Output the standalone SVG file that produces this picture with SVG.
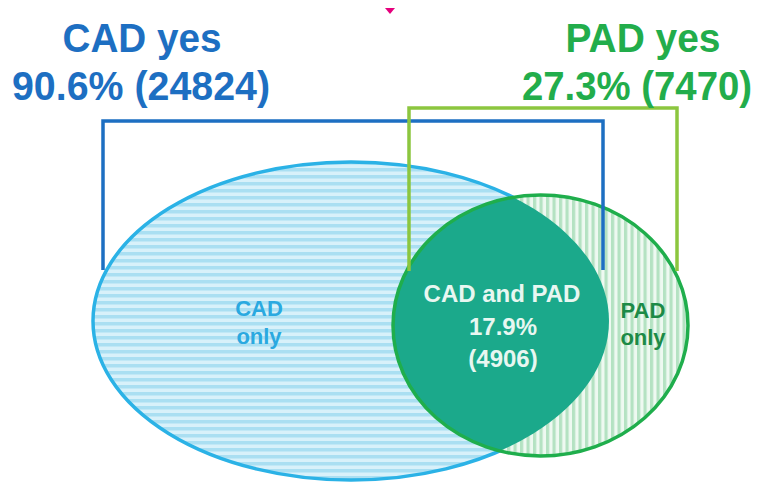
<svg xmlns="http://www.w3.org/2000/svg" width="764" height="482" viewBox="0 0 764 482">
  <style>
    .bold { font-family: "Liberation Sans", Arial, sans-serif; font-weight: bold; }
    .big { font-size: 40px; }
    .mid { font-size: 22px; }
    .cad-head { fill: #1d6fc2; }
    .pad-head { fill: #22ad4b; }
    .cad-only { fill: #2aa9e0; }
    .pad-only { fill: #1d8a47; }
    .both { fill: #e8f7f1; font-size: 24px; }
    .bracket { fill: none; stroke-width: 3.5; stroke-linejoin: miter; }
  </style>
  <defs>
    <!-- horizontal hatching for the CAD set -->
    <pattern id="hstripe" patternUnits="userSpaceOnUse" width="7" height="7">
      <rect width="7" height="7" fill="#d8f1fa"/>
      <rect y="0" width="7" height="3.5" fill="#aadff2"/>
    </pattern>
    <!-- vertical hatching for the PAD set -->
    <pattern id="vstripe" patternUnits="userSpaceOnUse" width="6.5" height="6.5">
      <rect width="6.5" height="6.5" fill="#eef9f1"/>
      <rect x="0" width="3.2" height="6.5" fill="#b4e2c2"/>
    </pattern>
    <clipPath id="cadClip">
      <ellipse cx="351" cy="321" rx="258" ry="159"/>
    </clipPath>
  </defs>

  <rect width="764" height="482" fill="#ffffff"/>

  <!-- small marker at the top -->
  <polygon points="385,8 395,8 390,14" fill="#e5007d"/>

  <g id="cad-set">
    <ellipse cx="351" cy="321" rx="258" ry="159" fill="url(#hstripe)" stroke="#2bb2e6" stroke-width="3.5"/>
  </g>

  <g id="pad-set">
    <ellipse cx="540.5" cy="325.5" rx="147.5" ry="130.5" fill="url(#vstripe)"/>
  </g>

  <g id="overlap">
    <ellipse cx="540.5" cy="325.5" rx="147.5" ry="130.5" fill="#1ba98b" clip-path="url(#cadClip)"/>
  </g>

  <g id="pad-outline">
    <ellipse cx="540.5" cy="325.5" rx="147.5" ry="130.5" fill="none" stroke="#1fae4c" stroke-width="3.5"/>
  </g>

  <g id="connectors">
    <polyline class="bracket" stroke="#1d6fc2" points="103,270 103,121 603,121 603,270"/>
    <polyline class="bracket" stroke="#8cc63f" points="409,271 409,108 677,108 677,271"/>
  </g>

  <g id="cad-label">
    <text class="bold big cad-head" x="142" y="52" text-anchor="middle" textLength="159" lengthAdjust="spacingAndGlyphs">CAD yes</text>
    <text class="bold big cad-head" x="141" y="100" text-anchor="middle" textLength="258" lengthAdjust="spacingAndGlyphs">90.6% (24824)</text>
  </g>

  <g id="pad-label">
    <text class="bold big pad-head" x="643" y="52" text-anchor="middle" textLength="155" lengthAdjust="spacingAndGlyphs">PAD yes</text>
    <text class="bold big pad-head" x="637" y="100" text-anchor="middle" textLength="230" lengthAdjust="spacingAndGlyphs">27.3% (7470)</text>
  </g>

  <g id="cad-only-label">
    <text class="bold mid cad-only" x="259" y="316" text-anchor="middle">CAD</text>
    <text class="bold mid cad-only" x="259" y="344" text-anchor="middle">only</text>
  </g>

  <g id="both-label">
    <text class="bold both" x="502" y="302" text-anchor="middle">CAD and PAD</text>
    <text class="bold both" x="503" y="335" text-anchor="middle">17.9%</text>
    <text class="bold both" x="503" y="367" text-anchor="middle">(4906)</text>
  </g>

  <g id="pad-only-label">
    <text class="bold mid pad-only" x="643" y="318" text-anchor="middle">PAD</text>
    <text class="bold mid pad-only" x="643" y="345" text-anchor="middle">only</text>
  </g>
</svg>
